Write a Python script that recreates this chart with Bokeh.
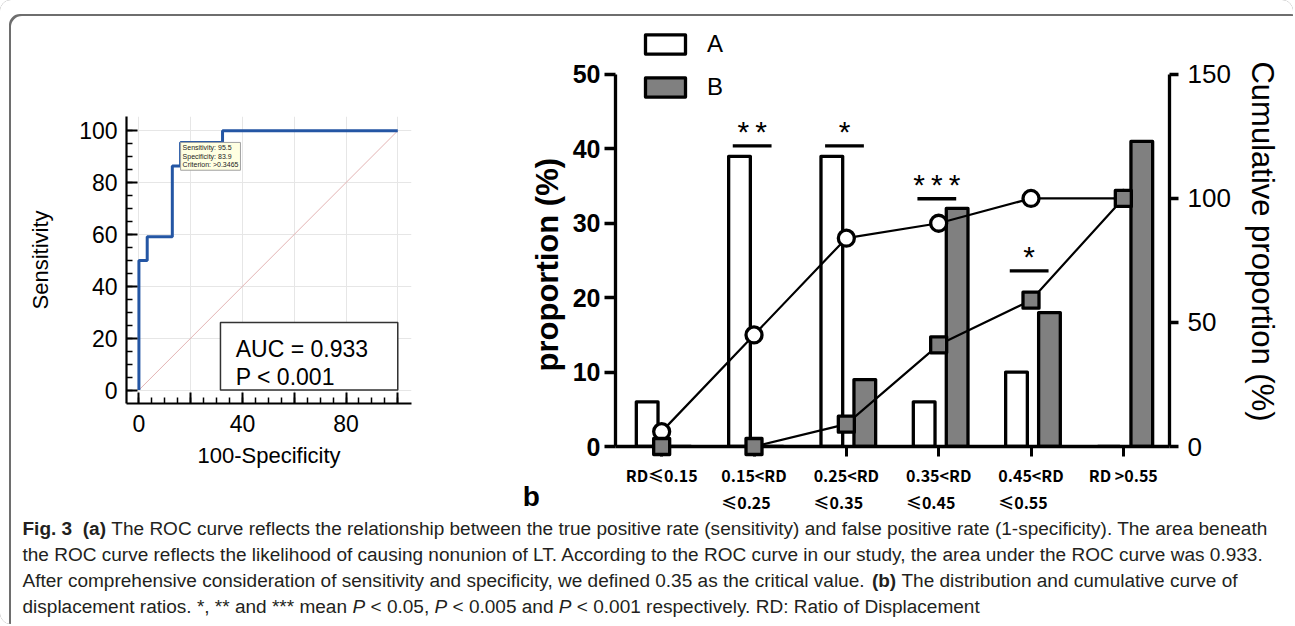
from bokeh.plotting import figure
from bokeh.layouts import row, column
from bokeh.models import (Range1d, FactorRange, LinearAxis, FixedTicker, BoxAnnotation,
                          Label, ColumnDataSource)
from bokeh.transform import dodge
from bokeh.core.properties import value
from bokeh.embed import file_html
from bokeh.resources import INLINE

# ---------------- data: panel a (ROC curve) ----------------
roc_fpr = [0, 0, 3.2, 12.9, 16.1, 32.3, 100]      # 100-Specificity
roc_tpr = [0, 50, 59.1, 86.4, 95.5, 100, 100]     # Sensitivity
chance_x = [0, 100]
chance_y = [0, 100]
roc_ticks = [0, 20, 40, 60, 80, 100]
roc_minor = [0, 5, 10, 15, 20, 25, 30, 35, 40, 45, 50, 55, 60, 65, 70, 75, 80, 85, 90, 95, 100]
auc_lines = ["AUC = 0.933", "P < 0.001"]
criterion_text = "Sensitivity: 95.5\nSpecificity: 83.9\nCriterion: >0.3465"
criterion_fpr = 16.1
criterion_tpr = 95.5

# ---------------- data: panel b (distribution) ----------------
categories = ["RD\u22640.15", "0.15<RD\n\u22640.25\u2002\u2002", "0.25<RD\n\u22640.35\u2002\u2002",
              "0.35<RD\n\u22640.45\u2002\u2002", "0.45<RD\n\u22640.55\u2002\u2002", "RD >0.55"]
prop_a = [6, 39, 39, 6, 10, 0]
prop_b = [0, 0, 9, 32, 18, 41]
cum_a = [6, 45, 84, 90, 100, 100]
cum_b = [0, 0, 9, 41, 59, 100]
sig_categories = [categories[1], categories[2], categories[3], categories[4]]
sig_marks = ["*\u2009*", "*", "*\u2009*\u2009*", "*"]
sig_levels = [40.4, 40.4, 33.3, 23.6]
prop_ticks = [0, 10, 20, 30, 40, 50]
cum_ticks = [0, 50, 100, 150]

# ---------------- caption ----------------
caption_lines = [
    [("Fig. 3  ", "bold"), ("(a)", "bold"),
     (" The ROC curve reflects the relationship between the true positive rate (sensitivity) and false positive rate (1-specificity). The area beneath", "normal")],
    [("the ROC curve reflects the likelihood of causing nonunion of LT. According to the ROC curve in our study, the area under the ROC curve was 0.933.", "normal")],
    [("After comprehensive consideration of sensitivity and specificity, we defined 0.35 as the critical value. ", "normal"), ("(b)", "bold"),
     (" The distribution and cumulative curve of", "normal")],
    [("displacement ratios. *, ** and *** mean ", "normal"), ("P", "italic"), (" < 0.05, ", "normal"), ("P", "italic"),
     (" < 0.005 and ", "normal"), ("P", "italic"), (" < 0.001 respectively. RD: Ratio of Displacement", "normal")],
]

FONT = "Liberation Sans"
CJK = "Noto Sans CJK SC"
TOP_H = 517


def clear_bg(p):
    p.outline_line_color = None
    p.background_fill_alpha = 0
    p.border_fill_alpha = 0


# ================= panel a =================
pa = figure(width=500, height=TOP_H, x_range=Range1d(-4.8, 105.3), y_range=Range1d(-5.2, 105.5),
            output_backend="svg", toolbar_location=None, frame_align=False,
            min_border_left=126, min_border_right=89, min_border_top=116, min_border_bottom=TOP_H - 116 - 287)
clear_bg(pa)
pa.grid.grid_line_color = "#e6e6e6"
pa.grid.grid_line_width = 1
for ax in (pa.xaxis[0], pa.yaxis[0]):
    ax.ticker = FixedTicker(ticks=roc_ticks, minor_ticks=roc_minor)
    ax.axis_line_width = 2.2
    ax.axis_line_color = "black"
    ax.major_tick_in = 11
    ax.major_tick_out = 0
    ax.minor_tick_in = 6
    ax.minor_tick_out = 0
    ax.major_tick_line_width = 2
    ax.minor_tick_line_width = 1.5
    ax.major_tick_line_color = "black"
    ax.minor_tick_line_color = "black"
    ax.major_label_text_font = FONT
    ax.major_label_text_font_size = "23px"
    ax.major_label_text_color = "black"
    ax.axis_label_text_font = FONT
    ax.axis_label_text_font_size = "22px"
    ax.axis_label_text_font_style = "normal"
    ax.axis_label_text_color = "black"
pa.xaxis.major_label_overrides = {20: "", 60: "", 100: ""}
pa.xaxis.axis_label = "100-Specificity"
pa.yaxis.axis_label = "Sensitivity"
pa.yaxis.major_label_standoff = 9
pa.xaxis.major_label_standoff = 11
pa.yaxis.axis_label_standoff = 23
pa.xaxis.axis_label_standoff = 8

pa.line(chance_x, chance_y, line_color="#e3b3b3", line_width=1)
pa.step(roc_fpr, roc_tpr, mode="after", line_color="#2456a4", line_width=3)

pa.add_layout(BoxAnnotation(left=31.5, right=100, bottom=0, top=26, fill_color="white", fill_alpha=1,
                            line_color="#333333", line_alpha=1, line_width=1.5))
pa.add_layout(Label(x=37.4, y=15.8, text=auc_lines[0], text_font=FONT, text_font_size="23px",
                    text_baseline="alphabetic", text_color="black"))
pa.add_layout(Label(x=37.4, y=5.1, text=auc_lines[1], text_font=FONT, text_font_size="23px",
                    text_baseline="alphabetic", text_color="black"))
pa.add_layout(Label(x=criterion_fpr, y=criterion_tpr, text=criterion_text, text_font=FONT,
                    text_font_size="7px", text_align="left", text_baseline="top", text_line_height=1.2,
                    background_fill_color="#ffffe1", background_fill_alpha=1,
                    border_line_color="#a0a0a0", border_line_width=1, padding=2, text_color="#222222"))
pa.add_layout(Label(x=-41.8, y=-24.6, text="a", text_font=FONT, text_font_size="28px",
                    text_font_style="bold", text_baseline="alphabetic", text_color="black"))

# ================= panel b =================
pb = figure(width=793, height=TOP_H, x_range=FactorRange(factors=categories), y_range=Range1d(0, 59.27),
            output_backend="svg", toolbar_location=None, frame_align=False,
            min_border_left=115, min_border_right=124, min_border_top=5, min_border_bottom=TOP_H - 446)
pb.extra_y_ranges = {"cum": Range1d(0, 177.8)}
clear_bg(pb)
pb.grid.visible = False

xa = pb.xaxis[0]
xa.axis_line_width = 3.3
xa.major_tick_out = 10
xa.major_tick_in = 0
xa.major_tick_line_width = 3
xa.major_label_text_font = CJK
xa.major_label_text_font_style = "bold"
xa.major_label_text_font_size = "16px"
xa.major_label_text_line_height = 1.15
xa.major_label_text_color = "black"
xa.major_label_standoff = 6

ya = pb.yaxis[0]
ya.bounds = (0, 50)
ya.ticker = FixedTicker(ticks=prop_ticks, minor_ticks=[])
ya.axis_line_width = 3.3
ya.major_tick_out = 11
ya.major_tick_in = 0
ya.major_tick_line_width = 3.3
ya.major_label_text_font = FONT
ya.major_label_text_font_style = "bold"
ya.major_label_text_font_size = "25px"
ya.major_label_text_color = "black"
ya.major_label_standoff = 4
ya.axis_label = "proportion (%)" + "\u2002" * 5
ya.axis_label_text_font = FONT
ya.axis_label_text_font_style = "bold"
ya.axis_label_text_font_size = "31px"
ya.axis_label_text_color = "black"
ya.axis_label_standoff = 5

yr = LinearAxis(y_range_name="cum", bounds=(0, 150), ticker=FixedTicker(ticks=cum_ticks, minor_ticks=[]))
yr.axis_line_width = 3.3
yr.major_tick_out = 9
yr.major_tick_in = 0
yr.major_tick_line_width = 3.3
yr.major_label_text_font = FONT
yr.major_label_text_font_size = "26px"
yr.major_label_text_color = "black"
yr.major_label_standoff = 9
yr.axis_label = "\u2002" * 2 + "Cumulative proportion (%)"
yr.axis_label_text_font = FONT
yr.axis_label_text_font_style = "normal"
yr.axis_label_text_font_size = "31px"
yr.axis_label_text_color = "black"
yr.axis_label_standoff = 11
pb.add_layout(yr, "right")

src = ColumnDataSource(dict(cat=categories, a=prop_a, b=prop_b, ca=cum_a, cb=cum_b))
ra = pb.vbar(x=dodge("cat", -0.157, range=pb.x_range), top="a", width=0.235, source=src,
             fill_color="white", line_color="black", line_width=3.3, line_join="round", legend_label="A")
rb = pb.vbar(x=dodge("cat", 0.2, range=pb.x_range), top="b", width=0.235, source=src,
             fill_color="#808080", line_color="black", line_width=3.3, line_join="round", legend_label="B")

pb.line(x="cat", y="ca", y_range_name="cum", source=src, line_color="black", line_width=2.2)
pb.line(x="cat", y="cb", y_range_name="cum", source=src, line_color="black", line_width=2.2)
pb.scatter(x="cat", y="ca", y_range_name="cum", source=src, marker="circle", size=16,
           fill_color="white", line_color="black", line_width=3.3, level="overlay")
pb.scatter(x="cat", y="cb", y_range_name="cum", source=src, marker="square", size=16,
           fill_color="#808080", line_color="black", line_width=3.3, line_join="round", level="overlay")

sig_src = ColumnDataSource(dict(cat=sig_categories, y=sig_levels, txt=sig_marks))
pb.segment(x0=dodge("cat", -0.23, range=pb.x_range), x1=dodge("cat", 0.19, range=pb.x_range),
           y0="y", y1="y", source=sig_src, line_color="black", line_width=3.3)
pb.text(x=dodge("cat", -0.02, range=pb.x_range), y="y", text="txt", source=sig_src,
        text_align="center", text_baseline="alphabetic", y_offset=-14,
        text_font=value(FONT), text_font_size="30px", text_color="black")

lg = pb.legend[0]
lg.location = "top_left"
lg.margin = 25
lg.padding = 0
lg.glyph_width = 50
lg.glyph_height = 24
lg.label_height = 24
lg.spacing = 15
lg.label_standoff = 17
lg.border_line_color = None
lg.background_fill_alpha = 0
lg.label_text_font = FONT
lg.label_text_font_size = "24px"
lg.label_text_color = "black"

pb.text(x=[categories[0]], y=[0], text=["b"], x_offset=-139, y_offset=50, text_align="left",
        text_baseline="alphabetic", text_font=value(FONT), text_font_size="28px",
        text_font_style="bold", text_color="black", level="overlay")

# ================= caption =================
W_REG = {" ": 278, "!": 278, "\"": 355, "#": 556, "$": 556, "%": 889, "&": 667, "'": 191, "(": 333,
         ")": 333, "*": 389, "+": 584, ",": 278, "-": 333, ".": 278, "/": 278, ":": 278, ";": 278,
         "<": 584, "=": 584, ">": 584, "?": 556}
for d in "0123456789":
    W_REG[d] = 556
for ch, w in zip("ABCDEFGHIJKLMNOPQRSTUVWXYZ",
                 [667, 667, 722, 722, 667, 611, 778, 722, 278, 500, 667, 556, 833, 722, 778, 667, 778,
                  722, 667, 611, 722, 667, 944, 667, 667, 611]):
    W_REG[ch] = w
for ch, w in zip("abcdefghijklmnopqrstuvwxyz",
                 [556, 556, 500, 556, 556, 278, 556, 556, 222, 222, 500, 222, 833, 556, 556, 556, 556,
                  333, 500, 278, 556, 500, 722, 500, 500, 500]):
    W_REG[ch] = w
W_BOLD = dict(W_REG)
W_BOLD.update({"F": 611, "i": 278, "g": 611, "b": 611, "a": 556, "(": 333, ")": 333, ".": 278, " ": 278})


def em_width(s, style):
    tbl = W_BOLD if style == "bold" else W_REG
    return sum(tbl.get(c, 556) for c in s) / 1000.0


line1_em = sum(em_width(t, s) for t, s in caption_lines[0])
cap_fs = (1268 - 22) / line1_em
cap_y = [528, 554, 580, 606]

pc = figure(width=1293, height=624 - TOP_H, x_range=Range1d(0, 1293), y_range=Range1d(624, TOP_H),
            x_axis_location=None, y_axis_location=None, min_border=0, frame_align=False,
            output_backend="svg", toolbar_location=None)
clear_bg(pc)
pc.grid.grid_line_color = None

pieces = {"normal": ([], [], []), "bold": ([], [], []), "italic": ([], [], [])}
for li, segs in enumerate(caption_lines):
    x = 22.0
    for t, s in segs:
        lead = len(t) - len(t.lstrip(" "))
        xs, ys, ts = pieces[s]
        xs.append(x + em_width(" " * lead, s) * cap_fs)
        ys.append(cap_y[li])
        ts.append(t.strip(" "))
        x += em_width(t, s) * cap_fs
for s, (xs, ys, ts) in pieces.items():
    if not xs:
        continue
    pc.text(x=xs, y=ys, text=ts, text_align="left", text_baseline="middle",
            text_font=value(FONT), text_font_size=f"{cap_fs:.2f}px",
            text_font_style="bold" if s == "bold" else ("italic" if s == "italic" else "normal"),
            text_color="#231f20")

root = column(row(pa, pb), pc,
              styles={"border-radius": "11px",
                      "box-shadow": "inset 9px 14px 0 0 #ffffff, inset 11px 16px 0 0 #6e6e6e"})

open("out.html", "w", encoding="utf-8").write(file_html(root, INLINE))
